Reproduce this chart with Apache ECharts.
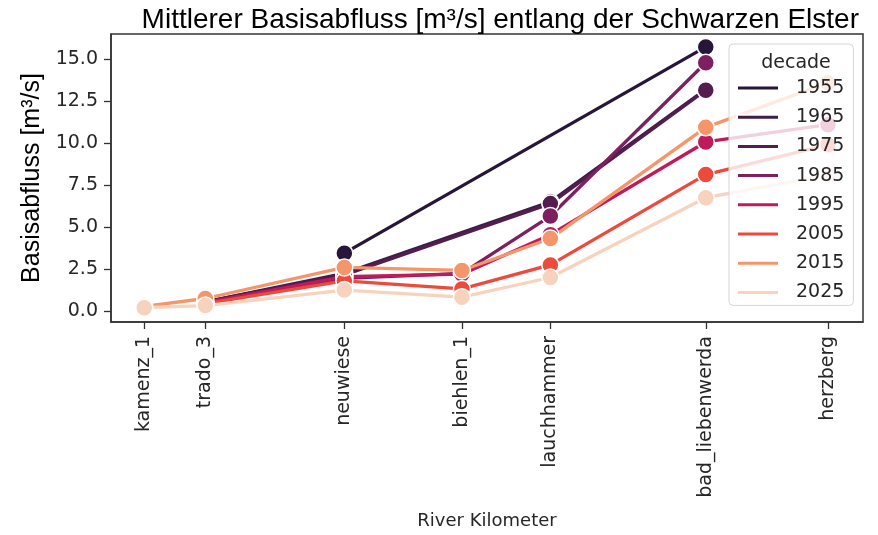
<!DOCTYPE html>
<html>
<head>
<meta charset="utf-8">
<script src="https://cdn.jsdelivr.net/npm/echarts@6/dist/echarts.min.js"></script>
<style>
html,body{margin:0;padding:0;background:#fff;}
#chart{width:878px;height:535px;}
</style>
</head>
<body>
<div id="chart"></div>
<script>
// ---- data ----
const stations = ['kamenz_1', 'trado_3', 'neuwiese', 'biehlen_1', 'lauchhammer', 'bad_liebenwerda', 'herzberg'];
const stationKm = [7.3, 20.7, 51.2, 77.0, 96.4, 130.5, 157.3];
const decades = ['1955', '1965', '1975', '1985', '1995', '2005', '2015', '2025'];
const v1955 = [null, null, 3.45, null, null, 15.73, null];
const v1965 = [null, 0.55, 2.25, null, 6.5, 13.2, null];
const v1975 = [null, 0.55, 2.15, null, 6.4, 13.15, null];
const v1985 = [null, 0.5, 1.95, 2.25, 5.66, 14.79, null];
const v1995 = [null, 0.5, 2.05, 2.2, 4.55, 10.07, 11.1];
const v2005 = [null, 0.45, 1.8, 1.32, 2.75, 8.13, 9.9];
const v2015 = [0.28, 0.75, 2.6, 2.42, 4.32, 10.94, 13.6];
const v2025 = [0.2, 0.33, 1.25, 0.83, 2.0, 6.75, 8.1];
const yTicks = [0, 2.5, 5, 7.5, 10, 12.5, 15];
const decadeColors = ['#28153a', '#3d1e48', '#531d50', '#7e1f5f', '#bf1a5a', '#ec4b3c', '#f5956a', '#f7d3bd'];

const allValues = [v1955, v1965, v1975, v1985, v1995, v2005, v2015, v2025];

const series = decades.map((d, i) => ({
  name: d,
  type: 'line',
  data: stationKm.map((km, j) => [km, allValues[i][j]]).filter(p => p[1] !== null),
  symbol: 'circle',
  symbolSize: 17,
  showAllSymbol: true,
  lineStyle: { width: 3.3, color: decadeColors[i] },
  itemStyle: { color: decadeColors[i], borderColor: '#fff', borderWidth: 1.5 },
  emphasis: { disabled: true },
  animation: false
}));

const axisLineStyle = { color: '#333', width: 1.5 };

const chart = echarts.init(document.getElementById('chart'), null, { renderer: 'canvas' });
chart.setOption({
  animation: false,
  color: decadeColors,
  title: [{
    text: 'Mittlerer Basisabfluss [m³/s] entlang der Schwarzen Elster',
    right: 14,
    top: 1,
    textStyle: { fontFamily: 'Liberation Sans', fontSize: 28, fontWeight: 'normal', color: '#000' }
  }, {
    text: 'decade',
    left: 791,
    top: 49,
    textAlign: 'center',
    z: 10,
    textStyle: { fontFamily: 'DejaVu Sans', fontSize: 19, fontWeight: 'normal', color: '#262626' }
  }],
  grid: {
    left: 111, right: 15, top: 34, bottom: 212,
    show: true, borderColor: '#333', borderWidth: 1.5, backgroundColor: 'transparent'
  },
  legend: {
    orient: 'vertical',
    left: 729,
    top: 44,
    align: 'left',
    padding: [34, 9, 3, 7],
    itemGap: 9.2,
    itemWidth: 42,
    itemHeight: 5,
    icon: 'rect',
    backgroundColor: 'rgba(255,255,255,0.8)',
    borderColor: '#d6d6d6',
    borderWidth: 1,
    borderRadius: 4,
    z: 8,
    selectedMode: false,
    textStyle: { fontFamily: 'DejaVu Sans', fontSize: 19, color: '#262626', lineHeight: 20, padding: [0, 0, 0, 12] },
    data: decades
  },
  xAxis: {
    type: 'value',
    min: 0,
    max: 165,
    name: 'River Kilometer',
    nameLocation: 'middle',
    nameGap: 190,
    nameTextStyle: { fontFamily: 'DejaVu Sans', fontSize: 18, color: '#262626' },
    axisLine: { show: true, onZero: false, lineStyle: axisLineStyle },
    axisTick: { show: true, length: 7, lineStyle: { color: '#333', width: 1.3 }, customValues: stationKm },
    axisLabel: {
      rotate: 90,
      margin: 14,
      fontFamily: 'DejaVu Sans',
      fontSize: 19,
      color: '#262626',
      customValues: stationKm,
      formatter: v => { const k = stationKm.indexOf(v); return k >= 0 ? stations[k] : ''; }
    },
    splitLine: { show: false }
  },
  yAxis: {
    type: 'value',
    min: -0.65,
    max: 16.5,
    name: 'Basisabfluss [m³/s]',
    nameLocation: 'middle',
    nameRotate: 90,
    nameGap: 66,
    nameTextStyle: { fontFamily: 'Liberation Sans', fontSize: 25, color: '#000' },
    axisLine: { show: true, onZero: false, lineStyle: axisLineStyle },
    axisTick: { show: true, length: 7, lineStyle: { color: '#333', width: 1.3 }, customValues: yTicks },
    axisLabel: {
      margin: 13,
      fontFamily: 'DejaVu Sans',
      fontSize: 19,
      color: '#262626',
      customValues: yTicks,
      formatter: v => v.toFixed(1)
    },
    splitLine: { show: false }
  },
  series: series
});
</script>
</body>
</html>
